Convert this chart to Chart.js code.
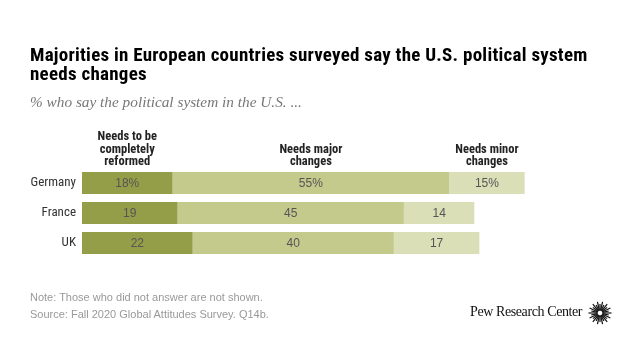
<!DOCTYPE html>
<html>
<head>
<meta charset="utf-8">
<script src="https://cdn.jsdelivr.net/npm/chart.js@4"></script>
<style>
  html, body { margin: 0; padding: 0; background: #fff; }
  #wrap { position: relative; width: 640px; height: 360px; overflow: hidden; }
  #chart { position: absolute; left: 0; top: 0; }
  .title { position: absolute; left: 30px; top: 45px; width: 590px; font: bold 19px "Liberation Sans Narrow", "Roboto Condensed", Arial, sans-serif; letter-spacing: 0.25px; line-height: 19px; color: #000; }
  .subtitle { position: absolute; left: 30px; top: 93px; font: italic 15.3px "Liberation Serif", Georgia, serif; color: #777; }
  .note { position: absolute; left: 30px; top: 289px; font: 11px Arial, "Liberation Sans", sans-serif; line-height: 17px; color: #999; }
  .logo { position: absolute; left: 470px; top: 304px; font: 14px "Liberation Serif", Georgia, serif; color: #111; letter-spacing: -0.4px; }
  .logo svg { position: absolute; left: 118px; top: -3px; }
</style>
</head>
<body>
<div id="wrap">
  <canvas id="chart" width="640" height="360"></canvas>
  <div class="title">Majorities in European countries surveyed say the U.S. political system<br>needs changes</div>
  <div class="subtitle">% who say the political system in the U.S. ...</div>
  <div class="note">Note: Those who did not answer are not shown.<br>Source: Fall 2020 Global Attitudes Survey. Q14b.</div>
  <div class="logo">Pew Research Center<svg id="sun" width="24" height="24" viewBox="-12 -12 24 24"></svg></div>
</div>
<script>
// values
const countries = ["Germany", "France", "UK"];
const seriesNames = [["Needs to be", "completely", "reformed"], ["Needs major", "changes"], ["Needs minor", "changes"]];
const reformed = [18, 19, 22];
const major = [55, 45, 40];
const minor = [15, 14, 17];
const colors = ["#949d48", "#c3ca8c", "#dadfb7"];

// little sunburst for the logo
const sun = document.getElementById("sun");
for (let i = 0; i < 28; i++) {
  const a = (i / 28) * Math.PI * 2;
  const r0 = 2.5, r1 = i % 2 ? 9 : 11.5;
  const l = document.createElementNS("http://www.w3.org/2000/svg", "line");
  l.setAttribute("x1", (Math.cos(a) * r0).toFixed(2));
  l.setAttribute("y1", (Math.sin(a) * r0).toFixed(2));
  l.setAttribute("x2", (Math.cos(a) * r1).toFixed(2));
  l.setAttribute("y2", (Math.sin(a) * r1).toFixed(2));
  l.setAttribute("stroke", "#111");
  l.setAttribute("stroke-width", "1.2");
  sun.appendChild(l);
}

const segmentLabels = {
  id: "segmentLabels",
  afterDatasetsDraw(chart) {
    const ctx = chart.ctx;
    ctx.save();
    ctx.textAlign = "center";
    ctx.textBaseline = "middle";
    chart.data.datasets.forEach((ds, di) => {
      const meta = chart.getDatasetMeta(di);
      meta.data.forEach((bar, i) => {
        const cx = (bar.x + bar.base) / 2;
        ctx.font = '12px Arial, "Liberation Sans", sans-serif';
        ctx.fillStyle = "#555";
        ctx.fillText(ds.data[i] + (i === 0 ? "%" : ""), cx, bar.y + 1);
        // column headers above the first row
        if (i === 0) {
          const lines = seriesNames[di];
          ctx.font = 'bold 12.5px "Liberation Sans Narrow", "Roboto Condensed", Arial, sans-serif';
          ctx.fillStyle = "#222";
          lines.forEach((t, k) => {
            ctx.fillText(t, cx, 162 - (lines.length - 1 - k) * 12.5);
          });
        }
      });
    });
    ctx.restore();
  }
};

new Chart(document.getElementById("chart"), {
  type: "bar",
  data: {
    labels: countries,
    datasets: [
      { data: reformed, backgroundColor: colors[0] },
      { data: major, backgroundColor: colors[1] },
      { data: minor, backgroundColor: colors[2] }
    ]
  },
  options: {
    indexAxis: "y",
    responsive: false,
    animation: false,
    events: [],
    layout: { padding: { top: 168, bottom: 102, left: 0, right: 55 } },
    datasets: { bar: { categoryPercentage: 1, barPercentage: 0.74, borderWidth: 0 } },
    plugins: { legend: { display: false }, tooltip: { enabled: false } },
    scales: {
      x: { stacked: true, min: 0, max: 100, display: false },
      y: {
        stacked: true,
        grid: { display: false, drawTicks: false },
        border: { display: false },
        ticks: { color: "#333", padding: 6, font: { family: '"Liberation Sans Narrow", "Roboto Condensed", Arial, sans-serif', size: 13 } },
        afterFit(scale) { scale.width = 82; }
      }
    }
  },
  plugins: [segmentLabels]
});
</script>
</body>
</html>
